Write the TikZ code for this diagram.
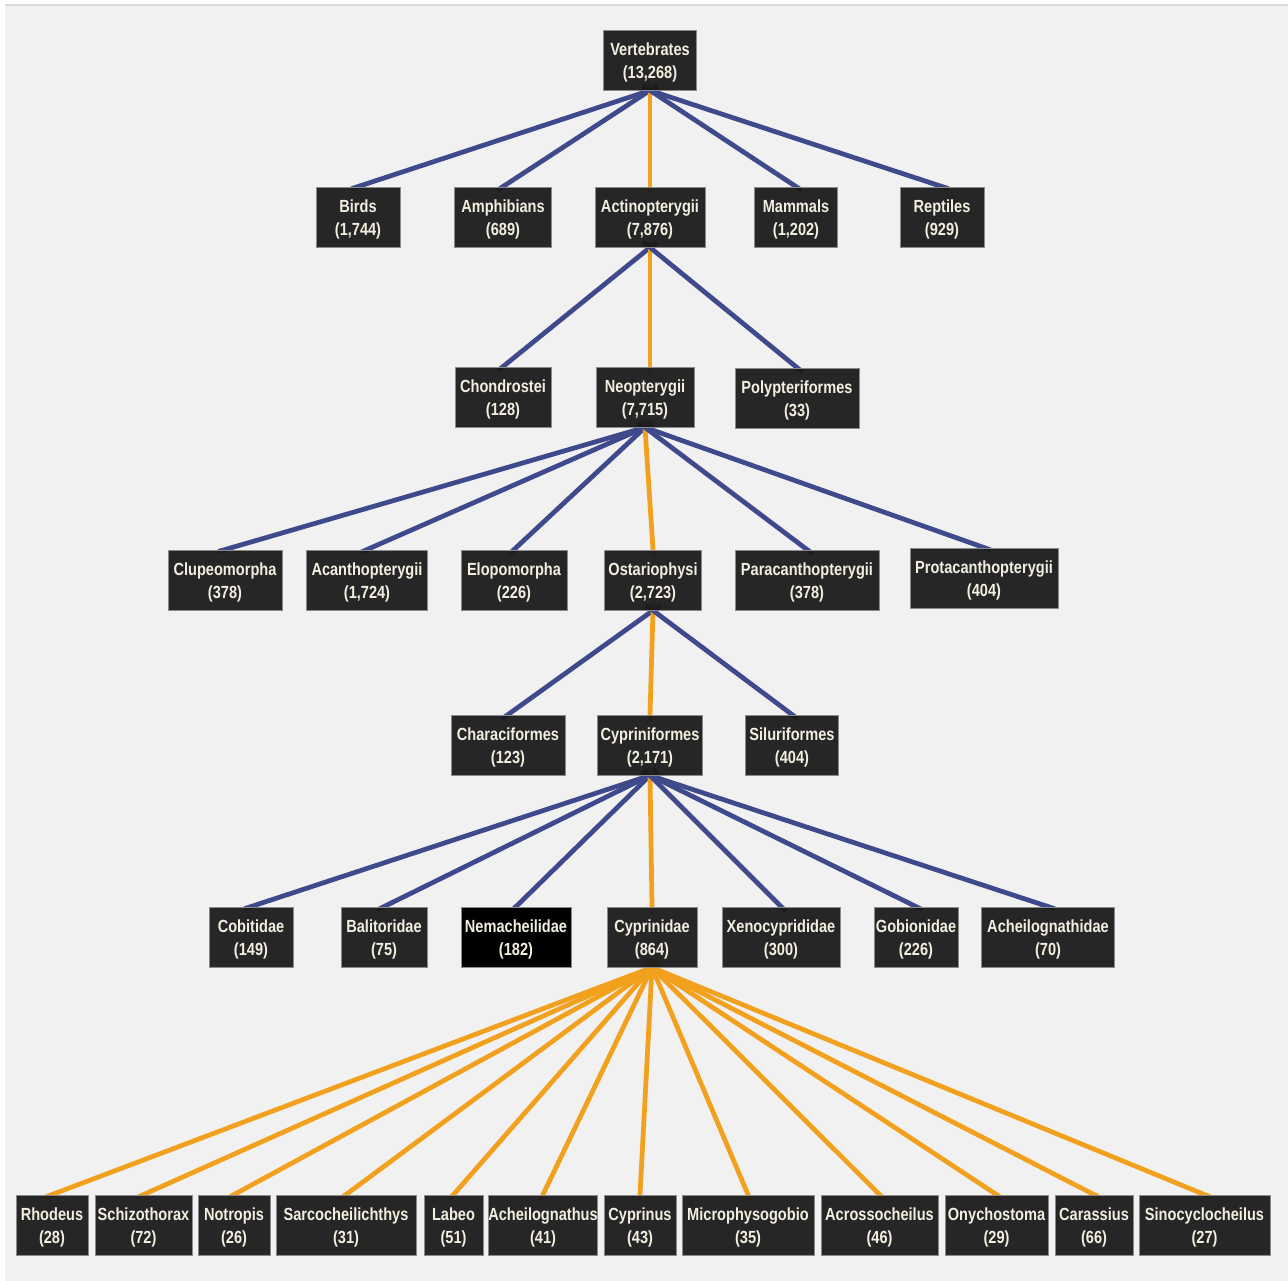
\documentclass[tikz,border=0pt]{standalone}
\usepackage{fontspec}
\setmainfont{Liberation Sans}[FakeStretch=0.83]
\usepackage{tikz}
\usetikzlibrary{calc}
\definecolor{taxonfill}{HTML}{1A1A1A}
\definecolor{taxonline}{HTML}{8A8A8A}
\definecolor{taxontext}{HTML}{F2EEE0}
\definecolor{lineblue}{HTML}{3F4A8C}
\definecolor{lineorange}{HTML}{F2A11F}
\definecolor{pagegray}{HTML}{F1F1F1}
\pgfdeclarelayer{bg}
\pgfdeclarelayer{edges}
\pgfsetlayers{bg,edges,main}
\tikzstyle{taxon} = [rectangle, minimum height=1.2cm, inner xsep=0pt, inner ysep=0pt, text height=23.4pt, text depth=2.2pt, align=center, draw=taxonline, line width=0.5pt, fill=taxonfill, fill opacity=0.94, text opacity=1, text=taxontext, font=\fontsize{10}{13}\selectfont\bfseries]
\tikzstyle{boxw} = [minimum width=#1*0.02cm]
\tikzstyle{other} = [line width=0.095cm, draw=lineblue, shorten <=-5pt, shorten >=-4pt]
\tikzstyle{carp} = [line width=0.095cm, draw=lineorange, shorten <=-5pt, shorten >=-4pt]

\begin{document}
\begin{tikzpicture}[x=0.02cm, y=-0.02cm]
			\useasboundingbox (0,0) rectangle (1288,1281);
			\begin{pgfonlayer}{bg}
				\fill [white] (0,0) rectangle (1288,1281);
				\fill [pagegray] (5,5) rectangle (1288,1281);
				\draw [black!15, line width=0.6pt] (5,5) -- (1288,5);
			\end{pgfonlayer}

			% root and classes
			\node (vert) [taxon, boxw=93] at (650,60) {Vertebrates\\(13,268)};
			\node (birds) [taxon, boxw=84] at (358,217) {Birds\\(1,744)};
			\node (amph) [taxon, boxw=97] at (503,217) {Amphibians\\(689)};
			\node (actino) [taxon, boxw=110] at (650,217) {Actinopterygii\\(7,876)};
			\node (mammals) [taxon, boxw=83] at (796,217) {Mammals\\(1,202)};
			\node (reptiles) [taxon, boxw=84] at (942,217) {Reptiles\\(929)};

			\node (chond) [taxon, boxw=96] at (503,397) {Chondrostei\\(128)};
			\node (neop) [taxon, boxw=98] at (645,397) {Neopterygii\\(7,715)};
			\node (polyp) [taxon, boxw=124] at (797,398) {Polypteriformes\\(33)};

			\node (clupeo) [taxon, boxw=114] at (225,580) {Clupeomorpha\\(378)};
			\node (acanth) [taxon, boxw=121] at (367,580) {Acanthopterygii\\(1,724)};
			\node (elopo) [taxon, boxw=106] at (514,580) {Elopomorpha\\(226)};
			\node (ostar) [taxon, boxw=97] at (653,580) {Ostariophysi\\(2,723)};
			\node (paracan) [taxon, boxw=144] at (807,580) {Paracanthopterygii\\(378)};
			\node (protacan) [taxon, boxw=148] at (984,578) {Protacanthopterygii\\(404)};

			\node (characi) [taxon, boxw=114] at (508,745) {Characiformes\\(123)};
			\node (cypriform) [taxon, boxw=105] at (650,745) {Cypriniformes\\(2,171)};
			\node (siluri) [taxon, boxw=93] at (792,745) {Siluriformes\\(404)};

			% families
			\node (cobit) [taxon, boxw=84] at (251,937) {Cobitidae\\(149)};
			\node (balit) [taxon, boxw=86] at (384,937) {Balitoridae\\(75)};
			\node (nemach) [taxon, boxw=110, fill=black, fill opacity=1] at (516,937) {Nemacheilidae\\(182)};
			\node (cyprinid) [taxon, boxw=90] at (652,937) {Cyprinidae\\(864)};
			\node (xeno) [taxon, boxw=118] at (781,937) {Xenocyprididae\\(300)};
			\node (gobion) [taxon, boxw=84] at (916,937) {Gobionidae\\(226)};
			\node (acheilid) [taxon, boxw=133] at (1048,937) {Acheilognathidae\\(70)};

			% genera
			\node (rhodeus) [taxon, boxw=72] at (52,1225) {Rhodeus\\(28)};
			\node (schizo) [taxon, boxw=97] at (143.5,1225) {Schizothorax\\(72)};
			\node (notropis) [taxon, boxw=72] at (234,1225) {Notropis\\(26)};
			\node (sarco) [taxon, boxw=140] at (346,1225) {Sarcocheilichthys\\(31)};
			\node (labeo) [taxon, boxw=59] at (453.5,1225) {Labeo\\(51)};
			\node (acheilo) [taxon, boxw=106] at (543,1225) {Acheilognathus\\(41)};
			\node (cyprinus) [taxon, boxw=72] at (640,1225) {Cyprinus\\(43)};
			\node (microph) [taxon, boxw=132] at (748,1225) {Microphysogobio\\(35)};
			\node (acrosso) [taxon, boxw=117] at (879.5,1225) {Acrossocheilus\\(46)};
			\node (onycho) [taxon, boxw=103] at (996.5,1225) {Onychostoma\\(29)};
			\node (carassius) [taxon, boxw=78] at (1094,1225) {Carassius\\(66)};
			\node (sinocyc) [taxon, boxw=131] at (1204.5,1225) {Sinocyclocheilus\\(27)};

			\begin{pgfonlayer}{edges}
				\draw [other] (vert.south) -- (birds.north);
				\draw [other] (vert.south) -- (amph.north);
				\draw [carp] (vert.south) -- (actino.north);
				\draw [other] (vert.south) -- (mammals.north);
				\draw [other] (vert.south) -- (reptiles.north);

				\draw [other] (actino.south) -- (chond.north);
				\draw [carp] (actino.south) -- (actino.south |- neop.north);
				\draw [other] (actino.south) -- (polyp.north);

				\draw [other] (neop.south) -- (clupeo.north);
				\draw [other] (neop.south) -- (acanth.north);
				\draw [other] (neop.south) -- (elopo.north);
				\draw [carp] (neop.south) -- (ostar.north);
				\draw [other] (neop.south) -- (paracan.north);
				\draw [other] (neop.south) -- (protacan.north);

				\draw [other] (ostar.south) -- (characi.north);
				\draw [carp] (ostar.south) -- (cypriform.north);
				\draw [other] (ostar.south) -- (siluri.north);

				\draw [other] (cypriform.south) -- (cobit.north);
				\draw [other] (cypriform.south) -- (balit.north);
				\draw [other] (cypriform.south) -- (nemach.north);
				\draw [carp] (cypriform.south) -- (cyprinid.north);
				\draw [other] (cypriform.south) -- (xeno.north);
				\draw [other] (cypriform.south) -- (gobion.north);
				\draw [other] (cypriform.south) -- (acheilid.north);

				\draw [carp] (cyprinid.south) -- (rhodeus.north);
				\draw [carp] (cyprinid.south) -- (schizo.north);
				\draw [carp] (cyprinid.south) -- (notropis.north);
				\draw [carp] (cyprinid.south) -- (sarco.north);
				\draw [carp] (cyprinid.south) -- (labeo.north);
				\draw [carp] (cyprinid.south) -- (acheilo.north);
				\draw [carp] (cyprinid.south) -- (cyprinus.north);
				\draw [carp] (cyprinid.south) -- (microph.north);
				\draw [carp] (cyprinid.south) -- (acrosso.north);
				\draw [carp] (cyprinid.south) -- (onycho.north);
				\draw [carp] (cyprinid.south) -- (carassius.north);
				\draw [carp] (cyprinid.south) -- (sinocyc.north);
			\end{pgfonlayer}
		\end{tikzpicture}
\end{document}
